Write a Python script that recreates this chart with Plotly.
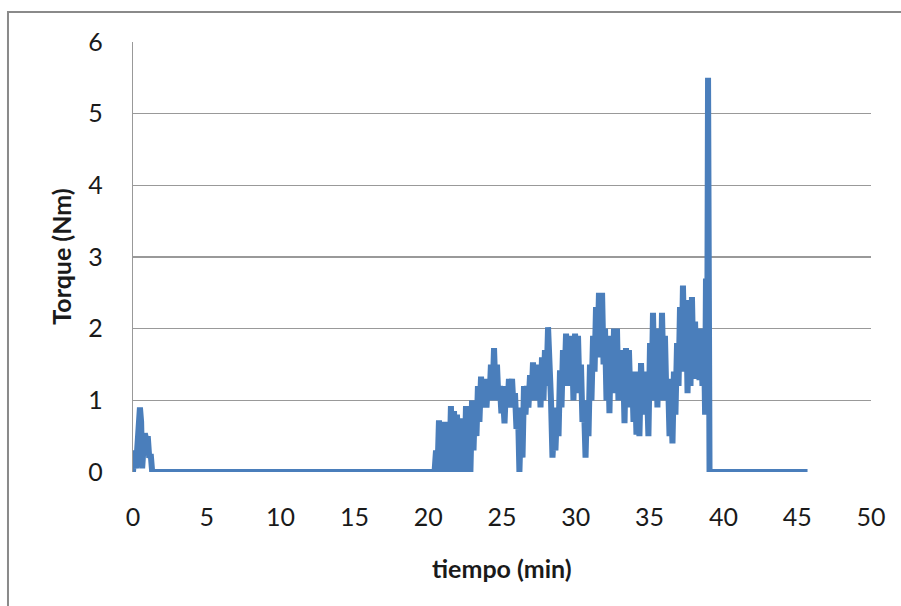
import plotly.graph_objects as go

# time (min) and torque (Nm)
time_min = [
    0.0, 0.1, 0.2, 0.35, 0.47, 0.55, 0.62, 0.7, 0.8, 0.9, 1.0, 1.1, 1.2, 1.3,
    20.33, 20.43, 20.53, 20.63, 20.73, 20.83, 20.93, 21.03, 21.14, 21.24,
    21.34, 21.44, 21.54, 21.64, 21.75, 21.85, 21.95, 22.05, 22.15, 22.25,
    22.36, 22.46, 22.56, 22.66, 22.76, 22.86, 22.97, 23.07, 23.17, 23.27,
    23.37, 23.47, 23.58, 23.68, 23.85, 23.95, 24.05, 24.15, 24.25, 24.35,
    24.46, 24.56, 24.66, 24.76, 24.86, 24.96, 25.07, 25.17, 25.27, 25.37,
    25.47, 25.57, 25.68, 25.78, 25.88, 25.98, 26.08, 26.18, 26.29, 26.39,
    26.49, 26.59, 26.69, 26.79, 26.90, 27.00, 27.10, 27.20, 27.30, 27.40,
    27.51, 27.61, 27.71, 27.81, 27.91, 28.01, 28.12, 28.22, 28.32, 28.42,
    28.52, 28.62, 28.73, 28.83, 28.93, 29.03, 29.13, 29.23, 29.34, 29.44,
    29.54, 29.64, 29.74, 29.84, 29.95, 30.05, 30.15, 30.25, 30.35, 30.45,
    30.56, 30.66, 30.76, 30.86, 30.96, 31.06, 31.17, 31.27, 31.37, 31.47,
    31.57, 31.67, 31.78, 31.88, 31.98, 32.08, 32.18, 32.28, 32.38, 32.48,
    32.59, 32.69, 32.79, 32.89, 32.99, 33.09, 33.20, 33.30, 33.40, 33.50,
    33.60, 33.70, 33.81, 33.91, 34.01, 34.11, 34.21, 34.31, 34.42, 34.52,
    34.62, 34.72, 34.82, 34.92, 35.03, 35.13, 35.23, 35.33, 35.43, 35.53,
    35.64, 35.74, 35.84, 35.94, 36.04, 36.14, 36.25, 36.35, 36.45, 36.55,
    36.65, 36.75, 36.86, 36.96, 37.06, 37.16, 37.26, 37.36, 37.47, 37.57,
    37.67, 37.77, 37.87, 37.97, 38.08, 38.18, 38.28, 38.38, 38.48, 38.58,
    38.69, 38.76, 38.82, 38.90, 38.96, 39.06, 45.7,
]
torque_nm = [
    0.0, 0.3, 0.05, 0.6, 0.9, 0.7, 0.05, 0.3, 0.54, 0.45, 0.5, 0.2, 0.25, 0.0,
    0.0, 0.0, 0.3, 0.0, 0.72, 0.0, 0.7, 0.05, 0.6, 0.0,
    0.7, 0.05, 0.92, 0.0, 0.85, 0.0, 0.8, 0.1, 0.7, 0.0,
    0.75, 0.0, 0.92, 0.0, 0.85, 0.0, 1.0, 0.3, 1.0, 0.5,
    1.2, 0.7, 1.33, 0.9, 1.3, 0.9, 1.3, 1.0, 1.5, 1.0,
    1.73, 1.1, 1.5, 1.0, 1.2, 0.82, 1.05, 0.68, 1.2, 0.9,
    1.3, 1.0, 1.3, 0.9, 1.1, 0.6, 0.9, 0.0, 0.8, 0.2,
    1.2, 0.8, 1.2, 0.9, 1.35, 1.0, 1.53, 1.0, 1.5, 1.1,
    1.5, 0.9, 1.6, 1.0, 1.7, 1.2, 2.02, 1.0, 1.0, 0.2,
    0.6, 0.3, 0.9, 0.5, 1.42, 0.9, 1.7, 1.2, 1.93, 1.2,
    1.9, 1.3, 1.9, 1.0, 1.93, 1.2, 1.9, 1.1, 1.5, 0.7,
    0.9, 0.2, 1.0, 0.5, 1.5, 1.0, 1.9, 1.4, 2.3, 1.6,
    2.5, 1.6, 2.5, 1.5, 2.0, 1.0, 1.8, 0.82, 1.9, 1.1,
    2.0, 1.3, 2.0, 1.0, 1.7, 1.0, 1.6, 0.68, 1.73, 0.9,
    1.7, 1.0, 1.4, 0.7, 1.3, 0.52, 1.4, 0.5, 1.52, 0.9,
    1.4, 0.8, 1.2, 0.5, 1.8, 1.0, 2.22, 1.2, 2.0, 0.9,
    2.0, 1.0, 2.22, 1.3, 1.9, 1.0, 1.3, 0.5, 1.0, 0.4,
    1.4, 0.8, 1.8, 1.2, 2.3, 1.4, 2.6, 1.6, 2.4, 1.1,
    2.0, 1.2, 2.44, 1.4, 2.1, 1.3, 2.0, 1.28, 2.0, 1.2,
    1.8, 0.8, 2.7, 1.3, 5.5, 0.0, 0.0,
]

x_ticks = [0, 5, 10, 15, 20, 25, 30, 35, 40, 45, 50]
y_ticks = [0, 1, 2, 3, 4, 5, 6]
x_title = "tiempo (min)"
y_title = "Torque (Nm)"

grid_col = "#999999"
font_fam = "Lato, 'Open Sans', sans-serif"

fig = go.Figure()
fig.add_trace(go.Scatter(
    x=time_min, y=torque_nm, mode="lines",
    line=dict(color="#4a7ebb", width=6, shape="linear"),
    showlegend=False, hoverinfo="skip",
))

fig.update_layout(
    width=901, height=606,
    margin=dict(l=133, r=30, t=42, b=134),
    paper_bgcolor="white", plot_bgcolor="white",
    font=dict(family=font_fam, size=25, color="#1a1a1a"),
    xaxis=dict(
        range=[0, 50], tickvals=x_ticks, ticktext=[str(v) for v in x_ticks],
        showgrid=False, zeroline=False, showline=False, ticks="",
        ticklabelstandoff=28, fixedrange=True,
    ),
    yaxis=dict(
        range=[0, 6], tickvals=y_ticks, ticktext=[str(v) for v in y_ticks],
        showgrid=True, gridcolor=grid_col, gridwidth=1.2,
        zeroline=False, showline=True, linecolor=grid_col, linewidth=1.2,
        ticks="", ticklabelstandoff=24, fixedrange=True,
    ),
    annotations=[
        dict(text="<b>" + x_title + "</b>", xref="paper", yref="paper",
             x=0.5, y=-0.224, xanchor="center", yanchor="middle",
             showarrow=False, font=dict(size=25, family=font_fam, color="#1a1a1a")),
        dict(text="<b>" + y_title + "</b>", xref="paper", yref="paper",
             x=-0.098, y=0.5, xanchor="center", yanchor="middle", textangle=-90,
             showarrow=False, font=dict(size=25, family=font_fam, color="#1a1a1a")),
    ],
    shapes=[
        dict(type="rect", xref="paper", yref="paper",
             x0=-0.1694, x1=1.2, y0=-0.6, y1=1.0698,
             line=dict(color="#8a8a8a", width=2), fillcolor="rgba(0,0,0,0)",
             layer="below"),
    ],
)

fig.write_html("out.html",
               config={"displayModeBar": False, "staticPlot": True},
               post_script="document.body.style.margin='0';document.body.style.padding='0';")
